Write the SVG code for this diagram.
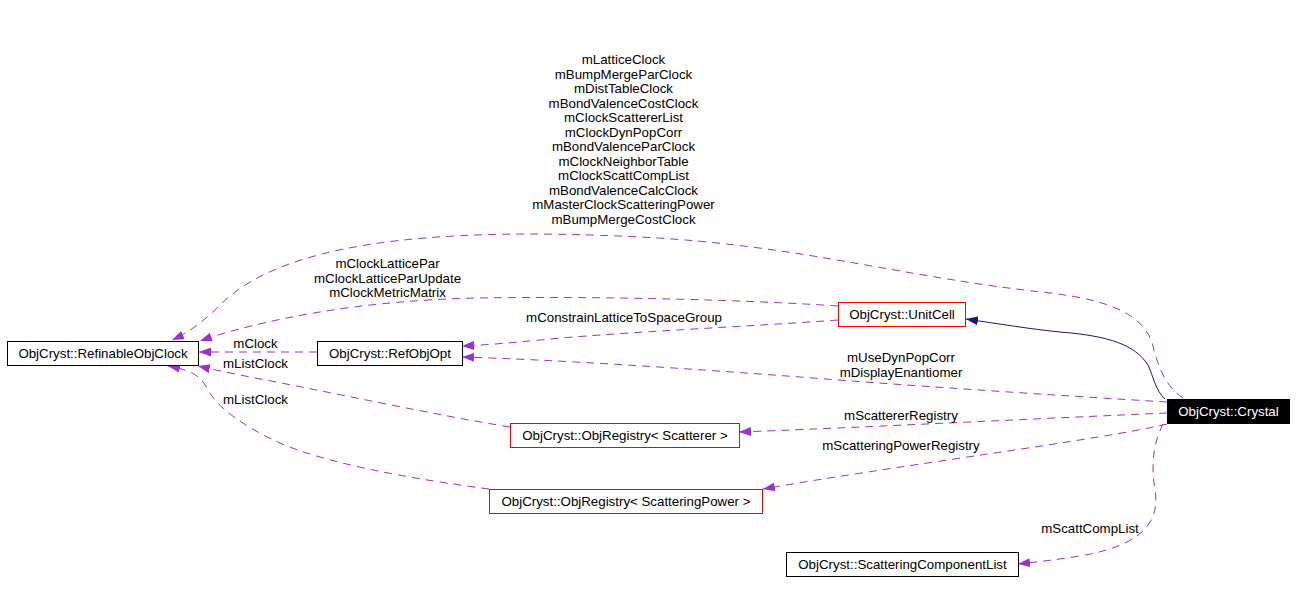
<svg xmlns="http://www.w3.org/2000/svg" width="1297" height="595" viewBox="0 0 1297 595">
<defs>
<style>
text{font-family:"Liberation Sans",Arial,sans-serif;font-size:13.3px;fill:#000;text-anchor:middle}
.nb{fill:#fff;stroke:#000;stroke-width:1}
.nr{fill:#fff;stroke:#ff0000;stroke-width:1}
.nk{fill:#000;stroke:#000;stroke-width:1}
.e{fill:none;stroke:#9a32cd;stroke-width:1;stroke-dasharray:8,6;marker-end:url(#ap)}
.s{fill:none;stroke:#191970;stroke-width:1;marker-end:url(#an)}
</style>
<marker id="ap" markerUnits="userSpaceOnUse" markerWidth="13" markerHeight="9" refX="12" refY="4.5" orient="auto"><path d="M0,0 L12,4.5 L0,9 z" fill="#9a32cd"/></marker>
<marker id="an" markerUnits="userSpaceOnUse" markerWidth="13" markerHeight="9" refX="12" refY="4.5" orient="auto"><path d="M0,0 L12,4.5 L0,9 z" fill="#191970"/></marker>
</defs>
<rect width="1297" height="595" fill="#fff"/>
<g id="edges">
<path class="e" d="M1183,398 C1165,386 1158,366 1153,346 C1145,315 1110,300 1050,293 C900,277 800,245 640,237 C420,226 280,245 220,305 C205,320 190,332 172,340"/>
<path class="e" d="M838,306 C750,300 600,296 480,298 C360,300 260,320 200,341"/>
<path class="e" d="M838,320 C760,326 620,332 540,340 C510,343 485,345 462,346"/>
<path class="e" d="M317,352 L199,352"/>
<path class="e" d="M510,427 C440,416 320,390 255,378 C230,373 215,370 198,366"/>
<path class="e" d="M489,489 C420,480 330,465 280,443 C240,425 215,405 207,388 C200,375 190,370 168,366"/>
<path class="s" d="M1165,399 C1155,390 1153,375 1148,365 C1135,345 1110,336 1060,332 C1030,329 1000,324 966,319"/>
<path class="e" d="M1167,402 C1050,395 900,385 800,377 C680,368 560,360 462,357"/>
<path class="e" d="M1167,413 C1050,418 850,428 739,432"/>
<path class="e" d="M1167,424 C1100,440 900,465 763,489"/>
<path class="e" d="M1163,424 C1155,440 1150,460 1155,490 C1160,520 1145,545 1080,556 C1055,560 1035,562 1018,564"/>
<text x="623.5" y="64">mLatticeClock</text>
<text x="623.5" y="78.5">mBumpMergeParClock</text>
<text x="623.5" y="93">mDistTableClock</text>
<text x="623.5" y="107.5">mBondValenceCostClock</text>
<text x="623.5" y="122">mClockScattererList</text>
<text x="623.5" y="136.5">mClockDynPopCorr</text>
<text x="623.5" y="151">mBondValenceParClock</text>
<text x="623.5" y="165.5">mClockNeighborTable</text>
<text x="623.5" y="180">mClockScattCompList</text>
<text x="623.5" y="194.5">mBondValenceCalcClock</text>
<text x="623.5" y="209">mMasterClockScatteringPower</text>
<text x="623.5" y="224">mBumpMergeCostClock</text>
<text x="387.5" y="268">mClockLatticePar</text>
<text x="387.5" y="282.5">mClockLatticeParUpdate</text>
<text x="387.5" y="297">mClockMetricMatrix</text>
<text x="624" y="322">mConstrainLatticeToSpaceGroup</text>
<text x="255.5" y="348">mClock</text>
<text x="255.5" y="368">mListClock</text>
<text x="255.5" y="404">mListClock</text>
<text x="901" y="362">mUseDynPopCorr</text>
<text x="901" y="376.5">mDisplayEnantiomer</text>
<text x="901" y="420">mScattererRegistry</text>
<text x="901" y="450">mScatteringPowerRegistry</text>
<text x="1090" y="533">mScattCompList</text>
</g>
<g id="n_RefinableObjClock"><rect class="nb" x="7.5" y="341.5" width="191" height="24"/><text x="103" y="358">ObjCryst::RefinableObjClock</text></g>
<g id="n_RefObjOpt"><rect class="nb" x="317.5" y="341.5" width="145" height="24"/><text x="390" y="358">ObjCryst::RefObjOpt</text></g>
<g id="n_UnitCell"><rect class="nr" x="838.5" y="302.5" width="127" height="24"/><text x="902" y="319">ObjCryst::UnitCell</text></g>
<g id="n_Crystal"><rect class="nk" x="1167.5" y="399.5" width="122" height="24"/><text x="1228.5" y="416" style="fill:#fff">ObjCryst::Crystal</text></g>
<g id="n_RegScatterer"><rect class="nr" x="510.5" y="423.5" width="229" height="24"/><text x="625" y="440">ObjCryst::ObjRegistry&lt; Scatterer &gt;</text></g>
<g id="n_RegScatteringPower"><rect class="nr" x="489.5" y="489.5" width="273" height="24"/><text x="626" y="506">ObjCryst::ObjRegistry&lt; ScatteringPower &gt;</text></g>
<g id="n_ScatteringComponentList"><rect class="nb" x="786.5" y="552.5" width="232" height="24"/><text x="902.5" y="569">ObjCryst::ScatteringComponentList</text></g>
</svg>
